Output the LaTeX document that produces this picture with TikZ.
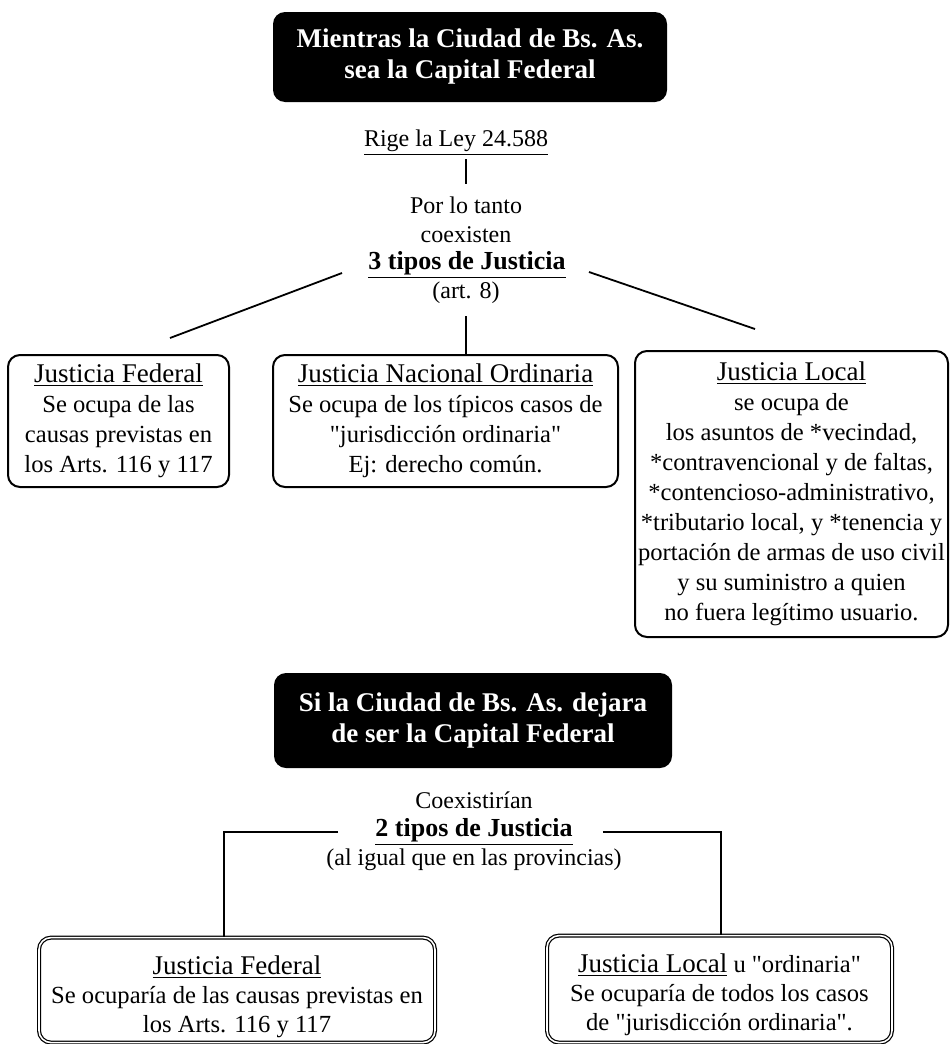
\documentclass[tikz,border=0pt]{standalone}
\usepackage{fontspec}
\setmainfont{Liberation Serif}[Ligatures=TeXOff]
\newcommand{\encabezado}[1]{{\fontsize{13.5}{15}\selectfont\underline{#1}}}

\begin{document}
\begin{tikzpicture}[x=0.5pt,y=-0.5pt,
every node/.style={align=center,inner sep=0pt,font=\fontsize{12}{14.75}\selectfont},
titulo/.style={fill=black,rounded corners=6pt,text=white,font=\fontsize{13.5}{15.5}\selectfont\bfseries},
negrita/.style={font=\fontsize{13}{15}\selectfont\bfseries},
caja/.style={draw,line width=1pt,rounded corners=6pt,font=\fontsize{12.3}{15}\selectfont},
caja2/.style={draw,double,double distance=0.8pt,line width=0.6pt,rounded corners=6pt,font=\fontsize{12.3}{14.5}\selectfont},
linea/.style={line width=0.9pt}]
\useasboundingbox (0,0) rectangle (951,1044);

\node[titulo,minimum width=197pt,minimum height=45pt] (titulo1) at (470,57) {Mientras la Ciudad de Bs. As.\\sea la Capital Federal};
\node (rige) at (456,143) {\underline{Rige la Ley 24.588}};
\node (portanto) at (466,205) {Por lo tanto};
\node (coexisten) at (466,235) {coexisten};
\node[negrita] (tipos3) at (467,265) {\underline{3 tipos de Justicia}};
\node (art8) at (466,293) {(art. 8)};

\node[caja,minimum width=110.5pt,minimum height=66pt] (jfederal) at (118.5,421) {\encabezado{Justicia Federal}\\Se ocupa de las\\causas previstas en\\los Arts. 116 y 117};
\node[caja,minimum width=172.5pt,minimum height=66pt] (jnacional) at (445.5,421) {\encabezado{Justicia Nacional Ordinaria}\\Se ocupa de los típicos casos de\\"jurisdicción ordinaria"\\Ej: derecho común.};
\node[caja,minimum width=156.5pt,minimum height=143pt] (jlocal) at (791.5,494) {\encabezado{Justicia Local}\\se ocupa de\\los asuntos de *vecindad,\\*contravencional y de faltas,\\*contencioso-administrativo,\\*tributario local, y *tenencia y\\portación de armas de uso civil\\y su suministro a quien\\no fuera legítimo usuario.};

\coordinate (d1) at (170,338);
\coordinate (d2) at (755,329);
\draw[linea] (portanto.north |- rige.south) ++(0,3) -- ([yshift=6pt]portanto.north);
\draw[linea] ([xshift=-13pt,yshift=-4pt]tipos3.west) -- (d1);
\draw[linea] ([xshift=11.5pt,yshift=-3.5pt]tipos3.east) -- (d2);
\draw[linea] (art8.south) ++(0,12) -- (art8.south |- jnacional.north);

\node[titulo,minimum width=199pt,minimum height=47.5pt] (titulo2) at (473,720.5) {Si la Ciudad de Bs. As. dejara\\de ser la Capital Federal};
\node (coexistirian) at (474,800) {Coexistirían};
\node[negrita] (tipos2) at (474,832) {\underline{2 tipos de Justicia}};
\node (igual) at (474,860) {(al igual que en las provincias)};

\node[caja2,minimum width=198pt,minimum height=52.5pt,anchor=north] (jfederal2) at (237,937) {\rule{0pt}{16pt}\encabezado{Justicia Federal}\\Se ocuparía de las causas previstas en\\los Arts. 116 y 117};
\node[caja2,minimum width=172.5pt,minimum height=53.5pt,anchor=north] (jlocal2) at (719.5,935) {\rule{0pt}{15pt}\encabezado{Justicia Local} u "ordinaria"\\Se ocuparía de todos los casos\\de "jurisdicción ordinaria".};

\draw[linea] ([xshift=-18.5pt]tipos2.west) -- ++(-114,0) coordinate (b1) -- (b1 |- jfederal2.north);
\draw[linea] ([xshift=15pt]tipos2.east) -- ++(118,0) coordinate (b2) -- (b2 |- jlocal2.north);
\end{tikzpicture}
\end{document}
